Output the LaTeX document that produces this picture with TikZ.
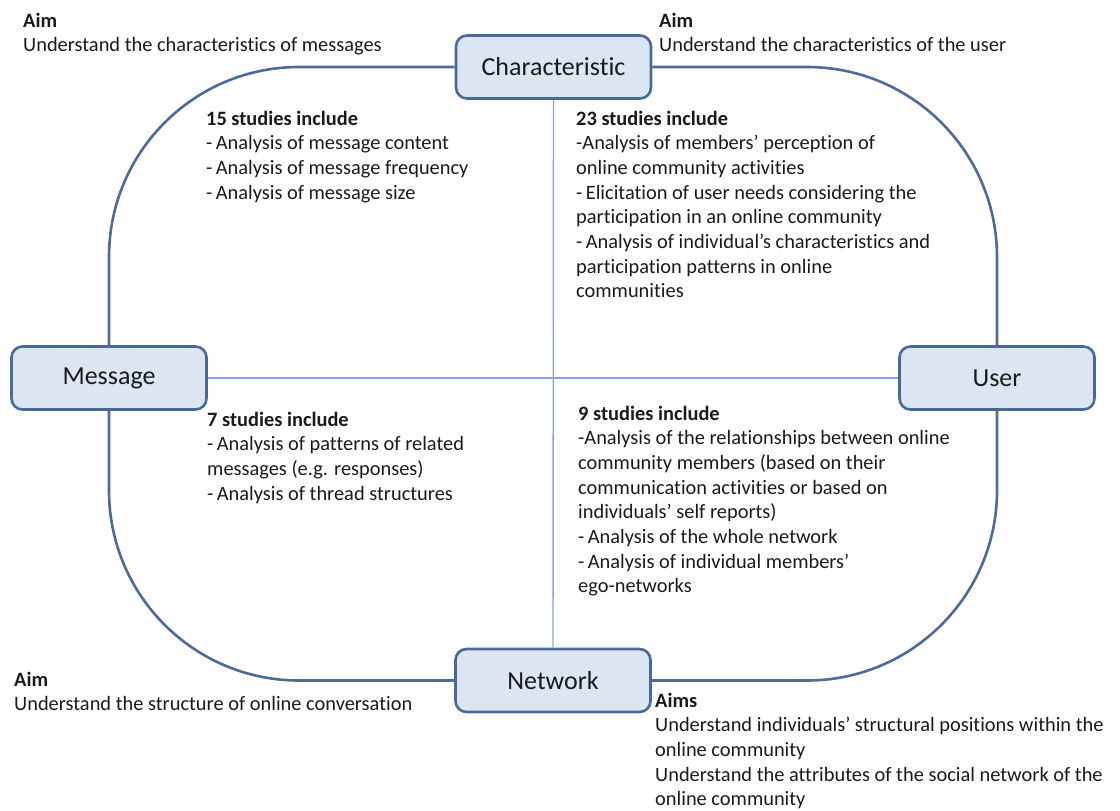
\documentclass[tikz,border=0pt]{standalone}
\usepackage{fontspec}
\setmainfont{Carlito}[Ligatures=NoCommon]
\definecolor{boxfill}{HTML}{DCE6F2}
\definecolor{boxline}{HTML}{4A6A96}
\definecolor{ringline}{HTML}{4C6B97}
\definecolor{axisline}{HTML}{88A6D4}
\definecolor{ink}{HTML}{1A1A1A}
\begin{document}
\begin{tikzpicture}[x=1pt,y=-1pt,
  topic/.style={draw=boxline, line width=2.6pt, fill=boxfill, rounded corners=11pt,
    minimum width=195pt, minimum height=63pt, inner sep=0pt,
    font=\fontsize{26}{30}\selectfont, text=ink},
  ring/.style={draw=ringline, line width=2.6pt, rounded corners=190pt},
  axis/.style={draw=axisline, line width=1.4pt},
  % multi-line blocks: the base anchor sits on the last line's baseline
  txt/.style={align=left, inner sep=0pt, anchor=base west,
    font=\fontsize{20.4}{24.7}\selectfont, text=ink}]
\useasboundingbox (0,0) rectangle (1120,811);

% the four topics
\node[topic] (ch)  at (553.5,67)  {Characteristic};
\node[topic] (msg) at (109,378)   {Message};
\node[topic] (usr) at (997,378)   {User};
\node[topic] (nw)  at (553,680.5) {Network};

% quadrant axes
\draw[axis] (ch.south) -- (nw.north);
\draw[axis] (msg.east) -- (usr.west);

% outer ring joining the topics
\draw[ring] (ch.west) -| (msg.north);
\draw[ring] (msg.south) |- (nw.west);
\draw[ring] (nw.east) -| (usr.south);
\draw[ring] (usr.north) |- (ch.east);

% aims
\node[txt] (aimtl) at (23,51.7) {\textbf{Aim}\\Understand the characteristics of messages};
\node[txt] (aimtr) at (659,51.7) {\textbf{Aim}\\Understand the characteristics of the user};
\node[txt] (aimbl) at (14,710.7) {\textbf{Aim}\\Understand the structure of online conversation};
\node[txt] (aimbr) at (655,805.8) {\textbf{Aims}\\Understand individuals’ structural positions within the\\online community\\Understand the attributes of the social network of the\\online community};

% study counts per quadrant
\node[txt] (qtl) at (206,199.1) {\textbf{15 studies include}\\-\,Analysis of message content\\-\,Analysis of message frequency\\-\,Analysis of message size};
\node[txt] (qtr) at (576,297.9) {\textbf{23 studies include}\\-Analysis of members’ perception of\\online community activities\\-\,Elicitation of user needs considering the\\participation in an online community\\-\,Analysis of individual’s characteristics and\\participation patterns in online\\communities};
\node[txt] (qbl) at (207,500.1) {\textbf{7 studies include}\\-\,Analysis of patterns of related\\messages (e.g. responses)\\-\,Analysis of thread structures};
\node[txt] (qbr) at (578,592.9) {\textbf{9 studies include}\\-Analysis of the relationships between online\\community members (based on their\\communication activities or based on\\individuals’ self reports)\\-\,Analysis of the whole network\\-\,Analysis of individual members’\\ego-networks};
\end{tikzpicture}
\end{document}
